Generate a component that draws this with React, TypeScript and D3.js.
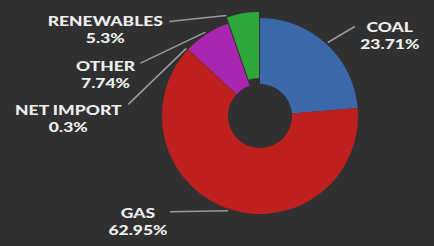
import { useEffect, useRef } from "react";
import * as d3 from "d3";

// electricity mix shares, in drawing order (clockwise from 12 o'clock)
const sources = ["COAL", "GAS", "NET IMPORT", "OTHER", "RENEWABLES"];
const shares = [23.71, 62.95, 0.3, 7.74, 5.3];
const shareLabels = ["23.71%", "62.95%", "0.3%", "7.74%", "5.3%"];
const colors = ["#3b68a9", "#be1f1f", "#be1f1f", "#a926b1", "#2fa83b"];

// label placement relative to the slice anchor: text centre, leader end
const labelLayout: Record<string, { tx: number; ty: number; ex: number; ey: number; corner?: boolean }> = {
  COAL: { tx: 62, ty: -10, ex: 27, ey: -16 },
  GAS: { tx: -90, ty: 7, ex: -58, ey: 1 },
  "NET IMPORT": { tx: -118, ty: 67, ex: -58, ey: 56 },
  OTHER: { tx: -100, ty: 39, ex: -65, ey: 31 },
  RENEWABLES: { tx: -121, ty: 10, ex: -57, ey: 6, corner: true },
};

const W = 434;
const H = 246;

export default function App() {
  const svgRef = useRef<SVGSVGElement>(null);

  useEffect(() => {
    document.body.style.margin = "0";
    const svg = d3.select(svgRef.current);
    svg.selectAll("*").remove();

    svg.append("rect").attr("width", W).attr("height", H).attr("fill", "#303030");

    const cx = 260;
    const cy = 116;
    const outer = 98;
    const inner = 32;
    const explode = 6;

    const data = sources.map((s, i) => ({ name: s, value: shares[i], label: shareLabels[i], color: colors[i] }));
    const pie = d3
      .pie<(typeof data)[number]>()
      .sort(null)
      .value((d) => d.value);
    const arcs = pie(data);
    const arc = d3.arc<d3.PieArcDatum<(typeof data)[number]>>().innerRadius(inner).outerRadius(outer);

    const g = svg.append("g").attr("transform", `translate(${cx},${cy})`);

    const offsetOf = (a: d3.PieArcDatum<any>) => {
      if (a.data.name !== "RENEWABLES") return [0, 0];
      const m = (a.startAngle + a.endAngle) / 2;
      return [Math.sin(m) * explode, -Math.cos(m) * explode];
    };

    // leader lines first, slices on top
    const lines = g.append("g");
    const labels = g.append("g");

    arcs.forEach((a) => {
      const lay = labelLayout[a.data.name];
      const [ox, oy] = offsetOf(a);
      const ang = lay.corner ? a.startAngle : (a.startAngle + a.endAngle) / 2;
      const ax = Math.sin(ang) * (outer + 2) + ox;
      const ay = -Math.cos(ang) * (outer + 2) + oy;
      lines
        .append("line")
        .attr("x1", ax)
        .attr("y1", ay)
        .attr("x2", ax + lay.ex)
        .attr("y2", ay + lay.ey)
        .attr("stroke", "#9a9a9a")
        .attr("stroke-width", 1.6);

      const t = labels
        .append("text")
        .attr("transform", `translate(${ax + lay.tx},${ay + lay.ty}) scale(1.25,1)`)
        .attr("text-anchor", "middle")
        .attr("font-family", "Lato, sans-serif")
        .attr("font-weight", 900)
        .attr("font-size", 14)
        .attr("fill", "#eeeeee");
      t.append("tspan").attr("x", 0).attr("y", 0).text(a.data.name);
      t.append("tspan").attr("x", 0).attr("y", 17).text(a.data.label);
    });

    g.append("g")
      .selectAll("path")
      .data(arcs)
      .join("path")
      .attr("d", arc)
      .attr("fill", (d) => d.data.color)
      .attr("transform", (d) => {
        const [ox, oy] = offsetOf(d);
        return `translate(${ox},${oy})`;
      });
  }, []);

  return <svg ref={svgRef} width={W} height={H} style={{ display: "block" }} />;
}
